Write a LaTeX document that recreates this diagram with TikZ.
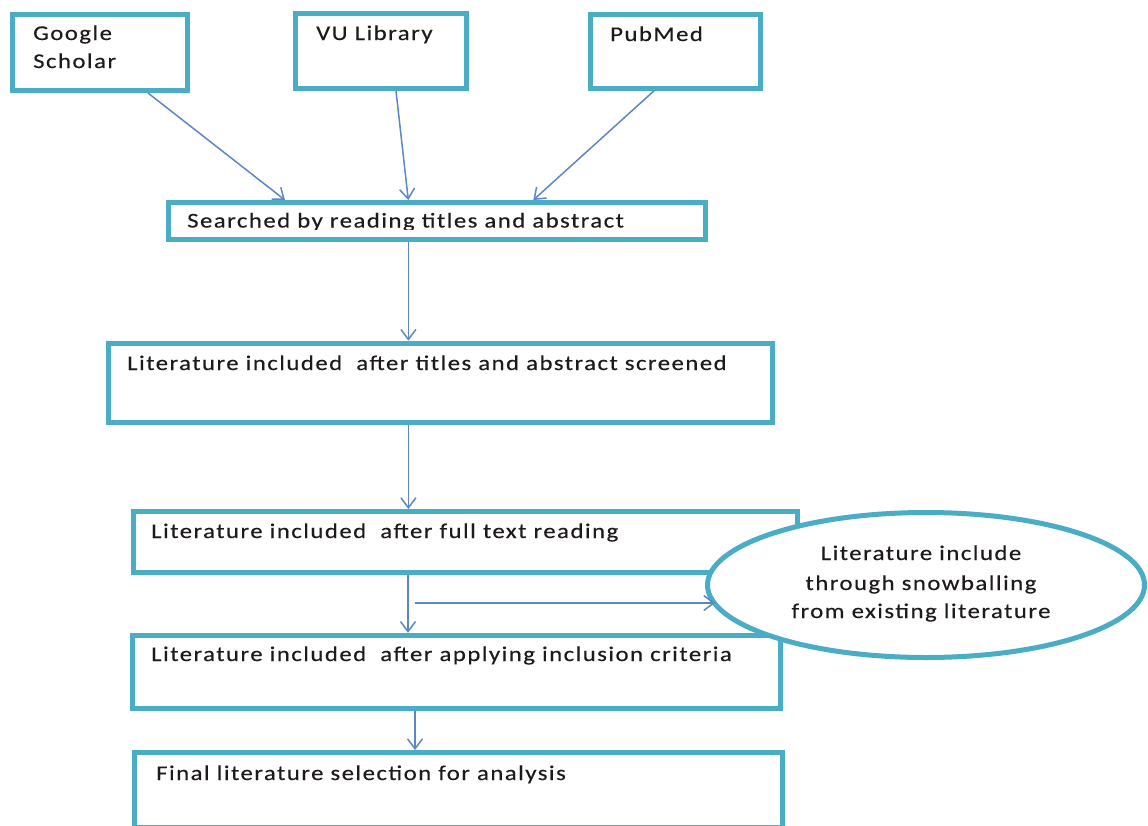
\documentclass[tikz,border=0pt]{standalone}
\usepackage{fontspec}
\setmainfont{Carlito}[FakeStretch=1.18,LetterSpace=7,FakeBold=0.3]
\usetikzlibrary{arrows.meta,shapes.geometric}
\definecolor{boxc}{HTML}{4BACC6}
\definecolor{arrc}{HTML}{5B87C5}
\definecolor{txtc}{HTML}{1E1A1A}
\begin{document}
\begin{tikzpicture}[x=1pt,y=-1pt,
  box/.style={draw=boxc,line width=5pt,rectangle,inner sep=0pt},
  txt/.style={anchor=base west,inner sep=0pt,text=txtc,font=\fontsize{21}{29}\selectfont},
  ctxt/.style={txt,anchor=base},
  arr/.style={draw=arrc,line width=1.5pt,-{Straight Barb[length=10pt,width=15pt]}}]
\fill[white] (0,0) rectangle (1148,825);
\useasboundingbox (0,0) rectangle (1148,825);
% boxes
\node[box,minimum width=175pt,minimum height=76.5pt] (google) at (100,52.25) {};
\node[box,minimum width=171pt,minimum height=75pt] (vu) at (380.5,50.8) {};
\node[box,minimum width=170.8pt,minimum height=74.1pt] (pub) at (675.4,51.25) {};
\node[box,minimum width=537pt,minimum height=37.3pt] (srch) at (436.7,221.2) {};
\node[box,minimum width=664pt,minimum height=79.6pt] (b2) at (440,383) {};
\node[box,minimum width=664pt,minimum height=60.5pt] (b3) at (465,541.75) {};
\node[box,minimum width=648.3pt,minimum height=73.5pt] (b4) at (456.5,672) {};
\node[box,minimum width=648.2pt,minimum height=74.5pt] (b5) at (458.6,789.75) {};
\node[draw=boxc,line width=5pt,ellipse,fill=white,minimum width=437pt,minimum height=145pt,inner sep=0pt] (ell) at (926,585) {};
% texts
\node[txt] (tg1) at (33,40) {Google};
\node[txt] (tg2) at (33,68) {Scholar};
\node[txt] (tvu) at (316,40) {VU Library};
\node[txt] (tpub) at (610,41) {PubMed};
\begin{scope}
  \clip (170,205) rectangle (703,229.5);
  \node[txt] (tsrch) at (187,227.5) {Searched by reading titles and abstract};
\end{scope}
\node[txt] (tb2) at (127,370) {Literature included\ \ after titles and abstract screened};
\node[txt] (tb3) at (151,538) {Literature included\ \ after full text reading};
\node[txt] (tb4) at (151,661) {Literature included\ \ after applying inclusion criteria};
\node[txt] (tb5) at (156,780) {Final literature selection for analysis};
\node[ctxt] (te1) at (921,560) {Literature include};
\node[ctxt] (te2) at (921,590) {through snowballing};
\node[ctxt] (te3) at (921,618) {from existing literature};
% arrows
\draw[arr] (google.south -| 148,0) -- (srch.north -| 285,0);
\draw[arr] (vu.south -| 396,0) -- (srch.north -| 408.3,0);
\draw[arr] (pub.south -| 654,0) -- (srch.north -| 533.3,0);
\draw[arr] (srch.south -| 408.4,0) -- (b2.north -| 408.4,0);
\draw[arr] (b2.south -| 408.4,0) -- (b3.north -| 408.4,0);
\draw[arr] (b3.south -| 408,0) -- (b4.north -| 408,0);
\draw[arr] (b4.south -| 415,0) -- (b5.north -| 415,0);
\coordinate (hs) at (415,603);
\coordinate (he) at (715,603);
\draw[arr] (hs) -- (he);
\end{tikzpicture}
\end{document}
